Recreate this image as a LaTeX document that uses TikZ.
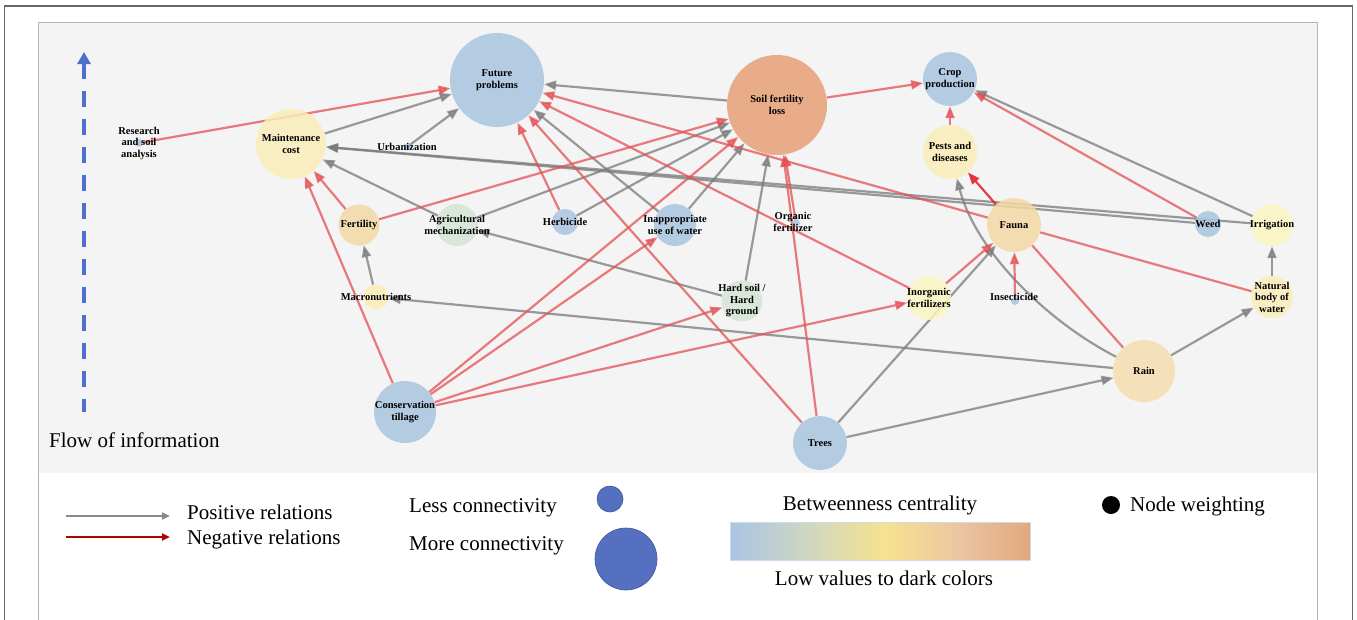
\documentclass[tikz,border=0pt]{standalone}
\usepackage{fontspec}
\setmainfont{Liberation Serif}
\usetikzlibrary{arrows.meta}

\pgfdeclarelayer{panel}
\pgfdeclarelayer{links}
\pgfsetlayers{panel,links,main}

% node fills
\definecolor{nBlue}{HTML}{A9C6E0}
\definecolor{nOrange}{HTML}{E8A077}
\definecolor{nYellow}{HTML}{F9EDB9}
\definecolor{nPale}{HTML}{FBF6C1}
\definecolor{nOchre}{HTML}{F4D8A6}
\definecolor{nSand}{HTML}{F5DEB0}
\definecolor{nGreen}{HTML}{D4E5D6}
% links
\definecolor{linkGray}{HTML}{7A7A7A}
\definecolor{linkRed}{HTML}{E35054}
\definecolor{linkBright}{HTML}{E02E30}
% frame and legend
\definecolor{panelGray}{HTML}{F4F4F4}
\definecolor{frameDark}{HTML}{666666}
\definecolor{frameLight}{HTML}{B4B4B4}
\definecolor{flowBlue}{HTML}{4F6FCC}
\definecolor{legBlue}{HTML}{5570C1}
\definecolor{legBlueEdge}{HTML}{3E5499}
\definecolor{legGray}{HTML}{8A8A8A}
\definecolor{legRed}{HTML}{B00000}
\definecolor{cbBlue}{HTML}{A9C4E4}
\definecolor{cbGreen}{HTML}{CDD6C4}
\definecolor{cbYellow}{HTML}{F6E28E}
\definecolor{cbPeach}{HTML}{EBC6A2}
\definecolor{cbOrange}{HTML}{E2A87C}

\pgfdeclarehorizontalshading{centrality}{100bp}{%
  color(0bp)=(cbBlue); color(25bp)=(cbBlue); color(37bp)=(cbGreen);
  color(51bp)=(cbYellow); color(63bp)=(cbPeach); color(75bp)=(cbOrange);
  color(100bp)=(cbOrange)}

\tikzset{
  vertex/.style={circle, inner sep=0pt, draw=none, fill opacity=0.85},
  lbl/.style={align=center, inner sep=0pt, text=black,
    font=\bfseries\fontsize{10.5}{11.5}\selectfont},
  poslink/.style={draw=linkGray, line width=2.2pt, opacity=0.75,
    -{Triangle[length=12pt,width=9pt]}},
  neglink/.style={draw=linkRed, line width=2.2pt, opacity=0.75,
    -{Triangle[length=12pt,width=9pt]}},
  negplain/.style={draw=linkRed, line width=2.2pt, opacity=0.75},
  legtext/.style={anchor=west, inner sep=0pt, font=\fontsize{21}{24}\selectfont},
}

\begin{document}
\begin{tikzpicture}[x=1pt, y=-1pt]
\useasboundingbox (0,0) rectangle (1357,619);

% frames and panel
\begin{pgfonlayer}{panel}
  \fill[white] (0,0) rectangle (1357,619);
  \fill[panelGray] (38.5,22.5) rectangle (1317,473);
  \draw[frameDark, line width=1.4pt] (4.5,625) -- (4.5,6) -- (1352.5,6) -- (1352.5,625);
  \draw[frameLight, line width=1pt] (38.5,625) -- (38.5,22.5) -- (1317,22.5) -- (1317,625);
\end{pgfonlayer}

% flow of information
\coordinate (flowtop) at (84,52);
\coordinate (flowbot) at (84,412);
\draw[flowBlue, line width=3.6pt, dash pattern=on 16pt off 12pt,
  {Triangle[length=12pt,width=13pt]}-] (flowtop) -- (flowbot);
\node[anchor=west, inner sep=0pt, font=\fontsize{21}{24}\selectfont] (flowtxt) at (49,440) {Flow of information};

% vertices
\node[vertex, minimum size=8pt,   fill=nBlue]   (res)    at (139,143) {};
\node[vertex, minimum size=70pt,  fill=nYellow] (mc)     at (291,144) {};
\node[vertex, minimum size=7pt,   fill=nBlue]   (urb)    at (407,147) {};
\node[vertex, minimum size=94pt,  fill=nBlue]   (fp)     at (497,80) {};
\node[vertex, minimum size=100pt, fill=nOrange] (sfl)    at (777,105) {};
\node[vertex, minimum size=54pt,  fill=nBlue]   (cp)     at (950,79) {};
\node[vertex, minimum size=54pt,  fill=nYellow] (pd)     at (950,152) {};
\node[vertex, minimum size=41pt,  fill=nOchre]  (fert)   at (359,225) {};
\node[vertex, minimum size=42pt,  fill=nGreen]  (agm)    at (457,225) {};
\node[vertex, minimum size=26pt,  fill=nBlue]   (herb)   at (565,222) {};
\node[vertex, minimum size=42pt,  fill=nBlue]   (iuw)    at (675,225) {};
\node[vertex, minimum size=8pt,   fill=nBlue]   (orgf)   at (796,223) {};
\node[vertex, minimum size=41pt,  fill=nGreen]  (hs)     at (742,301) {};
\node[vertex, minimum size=44pt,  fill=nPale]   (inorg)  at (929,298) {};
\node[vertex, minimum size=8pt,   fill=nBlue]   (insect) at (1015,301) {};
\node[vertex, minimum size=54pt,  fill=nOchre]  (fauna)  at (1014,225) {};
\node[vertex, minimum size=26pt,  fill=nBlue]   (weed)   at (1208,224) {};
\node[vertex, minimum size=42pt,  fill=nPale]   (irr)    at (1272,225) {};
\node[vertex, minimum size=42pt,  fill=nYellow] (nbw)    at (1272,297) {};
\node[vertex, minimum size=62pt,  fill=nSand]   (rain)   at (1144,371) {};
\node[vertex, minimum size=25pt,  fill=nYellow] (macro)  at (376,297) {};
\node[vertex, minimum size=62pt,  fill=nBlue]   (ct)     at (405,412) {};
\node[vertex, minimum size=54pt,  fill=nBlue]   (trees)  at (820,443) {};

% labels
\node[lbl] at (139,143) {Research\\and soil\\analysis};
\node[lbl] at (mc) {Maintenance\\cost};
\node[lbl] at (urb) {Urbanization};
\node[lbl] at (fp) {Future\\problems};
\node[lbl] at (sfl) {Soil fertility\\loss};
\node[lbl] at (cp) {Crop\\production};
\node[lbl] at (pd) {Pests and\\diseases};
\node[lbl] at (fert) {Fertility};
\node[lbl] at (agm) {Agricultural\\mechanization};
\node[lbl] at (herb) {Herbicide};
\node[lbl] at (iuw) {Inappropriate\\use of water};
\node[lbl] at (793,222) {Organic\\fertilizer};
\node[lbl] at (hs) {Hard soil /\\Hard\\ground};
\node[lbl] at (inorg) {Inorganic\\fertilizers};
\node[lbl] at (1014,297) {Insecticide};
\node[lbl] at (fauna) {Fauna};
\node[lbl] at (weed) {Weed};
\node[lbl] at (irr) {Irrigation};
\node[lbl] at (nbw) {Natural\\body of\\water};
\node[lbl] at (rain) {Rain};
\node[lbl] at (macro) {Macronutrients};
\node[lbl] at (ct) {Conservation\\tillage};
\node[lbl] at (trees) {Trees};

% relations
\begin{pgfonlayer}{links}
  % positive
  \draw[poslink] (mc) -- (fp);
  \draw[poslink] (urb) -- (fp);
  \draw[poslink] (sfl) -- (fp);
  \draw[poslink] (iuw) -- (fp);
  \draw[poslink] (agm) -- (sfl);
  \draw[poslink] (herb) -- (sfl);
  \draw[poslink] (iuw) -- (sfl);
  \draw[poslink] (hs) -- (sfl);
  \draw[poslink] (agm) -- (mc);
  \draw[poslink] (weed) -- (mc);
  \draw[poslink] (irr) -- (mc);
  \draw[poslink] (macro) -- (fert);
  \draw[poslink] (rain) -- (macro);
  \draw[poslink] (hs) -- (agm);
  \draw[poslink] (irr) -- (cp);
  \draw[poslink] (rain) .. controls (1048,322) and (976,252) .. (pd);
  \draw[poslink] (trees) -- (fauna);
  \draw[poslink] (trees) -- (rain);
  \draw[poslink] (rain) -- (nbw);
  \draw[poslink] (nbw) -- (irr);
  % negative
  \draw[neglink] (res) -- (fp);
  \draw[neglink] (herb) -- (fp);
  \draw[neglink] (trees) -- (fp);
  \draw[neglink] (inorg) -- (fp);
  \draw[neglink] (fauna) -- (fp);
  \draw[neglink] (fert) -- (sfl);
  \draw[neglink] (ct) -- (sfl);
  \draw[neglink] (trees) -- (sfl);
  \draw[neglink] (orgf) -- (sfl);
  \draw[neglink] (sfl) -- (cp);
  \draw[neglink] (fert) -- (mc);
  \draw[neglink] (ct) -- (mc);
  \draw[neglink] (pd) -- (cp);
  \draw[neglink] (weed) -- (cp);
  \draw[neglink, draw=linkBright, opacity=0.9] (fauna) -- (pd);
  \draw[neglink] (inorg) -- (fauna);
  \draw[neglink] (insect) -- (fauna);
  \draw[negplain] (nbw) -- (fauna);
  \draw[negplain] (rain) -- (fauna);
  \draw[neglink] (ct) -- (iuw);
  \draw[neglink] (ct) -- (hs);
  \draw[neglink] (ct) -- (inorg);
\end{pgfonlayer}

% legend: relation types
\coordinate (lp1) at (66,516);
\coordinate (lp2) at (170,516);
\coordinate (ln1) at (66,537);
\coordinate (ln2) at (170,537);
\draw[legGray, line width=2.2pt, -{Triangle[length=8pt,width=7pt]}] (lp1) -- (lp2);
\draw[legRed, line width=2.2pt, -{Triangle[length=8pt,width=7pt]}] (ln1) -- (ln2);
\node[legtext] (tpos) at (187,512) {Positive relations};
\node[legtext] (tneg) at (187,539) {Negative relations};

% legend: connectivity
\node[legtext] (tless) at (409,508) {Less connectivity};
\node[legtext] (tmore) at (409,546) {More connectivity};
\node[circle, inner sep=0pt, minimum size=26pt, fill=legBlue, draw=legBlueEdge, line width=0.6pt] (cless) at (610,499) {};
\node[circle, inner sep=0pt, minimum size=62pt, fill=legBlue, draw=legBlueEdge, line width=0.6pt] (cmore) at (626,559) {};

% legend: betweenness centrality
\node[font=\fontsize{21}{24}\selectfont, inner sep=0pt] (tbc) at (880,505) {Betweenness centrality};
\shade[shading=centrality, draw=cbBlue!60!white, line width=0.4pt] (730,522) rectangle (1030,560);
\node[font=\fontsize{21}{24}\selectfont, inner sep=0pt] (tlow) at (884,578) {Low values to dark colors};

% legend: node weighting
\node[circle, inner sep=0pt, minimum size=18pt, fill=black] (wdot) at (1111,505) {};
\node[legtext] (tnw) at (1130,506) {Node weighting};
\end{tikzpicture}
\end{document}
